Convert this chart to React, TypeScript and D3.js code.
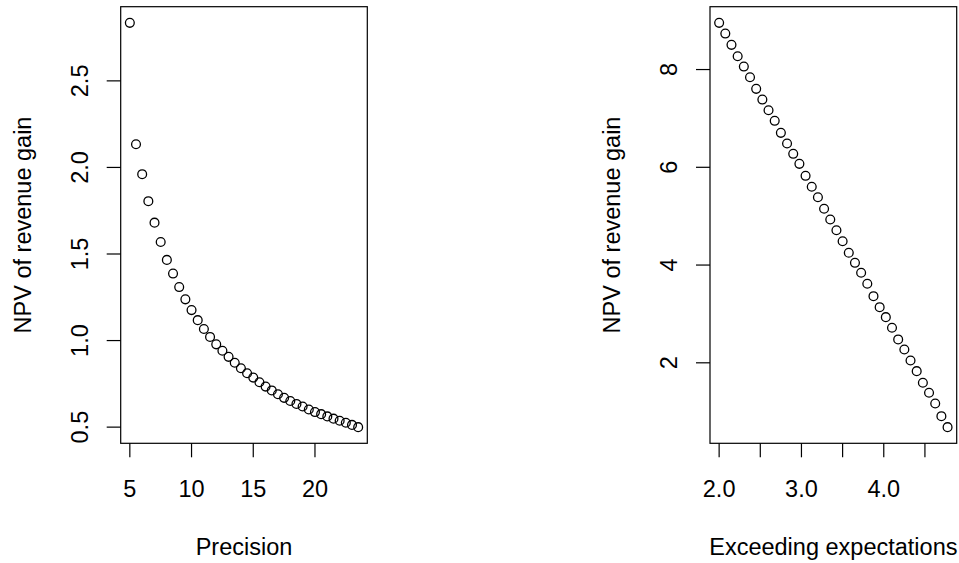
import React from "react";
import * as d3 from "d3";

// Left panel: Precision vs NPV of revenue gain
const precision = [5, 5.5, 6, 6.5, 7, 7.5, 8, 8.5, 9, 9.5, 10, 10.5, 11, 11.5, 12, 12.5, 13, 13.5, 14, 14.5, 15, 15.5, 16, 16.5, 17, 17.5, 18, 18.5, 19, 19.5, 20, 20.5, 21, 21.5, 22, 22.5, 23, 23.5];
const npvPrecision = [2.835, 2.134, 1.961, 1.805, 1.681, 1.569, 1.466, 1.387, 1.309, 1.238, 1.176, 1.118, 1.067, 1.021, 0.978, 0.941, 0.906, 0.872, 0.840, 0.811, 0.786, 0.759, 0.734, 0.712, 0.690, 0.669, 0.651, 0.634, 0.619, 0.602, 0.587, 0.575, 0.562, 0.549, 0.537, 0.525, 0.513, 0.500];

// Right panel: Exceeding expectations vs NPV of revenue gain
const exceeding = [2.0, 2.075, 2.15, 2.225, 2.3, 2.375, 2.45, 2.525, 2.6, 2.675, 2.75, 2.825, 2.9, 2.975, 3.05, 3.125, 3.2, 3.275, 3.35, 3.425, 3.5, 3.575, 3.65, 3.725, 3.8, 3.875, 3.95, 4.025, 4.1, 4.175, 4.25, 4.325, 4.4, 4.475, 4.55, 4.625, 4.7, 4.775];
const npvExceeding = [8.955, 8.736, 8.505, 8.272, 8.061, 7.843, 7.605, 7.386, 7.168, 6.951, 6.705, 6.486, 6.276, 6.071, 5.826, 5.601, 5.388, 5.151, 4.932, 4.711, 4.488, 4.251, 4.046, 3.842, 3.617, 3.363, 3.138, 2.934, 2.717, 2.478, 2.273, 2.048, 1.829, 1.591, 1.387, 1.168, 0.908, 0.684];

const leftXTicks = [5, 10, 15, 20];
const leftXTickLabels = ["5", "10", "15", "20"];
const leftYTicks = [0.5, 1.0, 1.5, 2.0, 2.5];
const leftYTickLabels = ["0.5", "1.0", "1.5", "2.0", "2.5"];
const rightXTicks = [2.0, 2.5, 3.0, 3.5, 4.0, 4.5];
const rightXTickLabels = ["2.0", "", "3.0", "", "4.0", ""];
const rightYTicks = [2, 4, 6, 8];
const rightYTickLabels = ["2", "4", "6", "8"];

const FONT = "'Liberation Sans', Arial, sans-serif";
const FS = 23.5;

function rExtent(vals: number[]): [number, number] {
  const [mn, mx] = d3.extent(vals) as [number, number];
  const e = (mx - mn) * 0.04;
  return [mn - e, mx + e];
}

type PanelProps = {
  x0: number;
  x1: number;
  y0: number;
  y1: number;
  xs: number[];
  ys: number[];
  xTicks: number[];
  xTickLabels: string[];
  yTicks: number[];
  yTickLabels: string[];
  xTitle: string;
  yTitle: string;
};

function Panel(p: PanelProps) {
  const xScale = d3.scaleLinear().domain(rExtent(p.xs)).range([p.x0, p.x1]);
  const yScale = d3.scaleLinear().domain(rExtent(p.ys)).range([p.y1, p.y0]);
  const tickLen = 14;
  const cy = (p.y0 + p.y1) / 2;
  const cx = (p.x0 + p.x1) / 2;
  return (
    <g>
      <rect x={p.x0} y={p.y0} width={p.x1 - p.x0} height={p.y1 - p.y0} fill="none" stroke="#000" strokeWidth={1.2} />
      {p.xTicks.map((t, i) => (
        <g key={"xt" + i}>
          <line x1={xScale(t)} x2={xScale(t)} y1={p.y1} y2={p.y1 + tickLen} stroke="#000" strokeWidth={1.2} />
          {p.xTickLabels[i] ? (
            <text x={xScale(t)} y={p.y1 + 53.5} textAnchor="middle" fontFamily={FONT} fontSize={FS} fill="#000">
              {p.xTickLabels[i]}
            </text>
          ) : null}
        </g>
      ))}
      {p.yTicks.map((t, i) => (
        <g key={"yt" + i}>
          <line x1={p.x0 - tickLen} x2={p.x0} y1={yScale(t)} y2={yScale(t)} stroke="#000" strokeWidth={1.2} />
          <text
            transform={`translate(${p.x0 - 33.2},${yScale(t)}) rotate(-90)`}
            textAnchor="middle"
            fontFamily={FONT}
            fontSize={FS}
            fill="#000"
          >
            {p.yTickLabels[i]}
          </text>
        </g>
      ))}
      <text x={cx} y={555} textAnchor="middle" fontFamily={FONT} fontSize={FS} fill="#000">
        {p.xTitle}
      </text>
      <text
        transform={`translate(${p.x0 - 90},${cy}) rotate(-90)`}
        textAnchor="middle"
        fontFamily={FONT}
        fontSize={FS}
        fill="#000"
      >
        {p.yTitle}
      </text>
      {p.xs.map((x, i) => (
        <circle key={"pt" + i} cx={xScale(x)} cy={yScale(p.ys[i])} r={4.4} fill="none" stroke="#000" strokeWidth={1.3} />
      ))}
    </g>
  );
}

export default function App() {
  return (
    <svg
      width={959}
      height={563}
      style={{ position: "absolute", left: 0, top: 0, background: "#fff" }}
    >
      <rect x={0} y={0} width={959} height={563} fill="#fff" />
      <Panel
        x0={120.7}
        x1={367.3}
        y0={6.7}
        y1={443.3}
        xs={precision}
        ys={npvPrecision}
        xTicks={leftXTicks}
        xTickLabels={leftXTickLabels}
        yTicks={leftYTicks}
        yTickLabels={leftYTickLabels}
        xTitle="Precision"
        yTitle="NPV of revenue gain"
      />
      <Panel
        x0={710}
        x1={956.7}
        y0={6.7}
        y1={443.3}
        xs={exceeding}
        ys={npvExceeding}
        xTicks={rightXTicks}
        xTickLabels={rightXTickLabels}
        yTicks={rightYTicks}
        yTickLabels={rightYTickLabels}
        xTitle="Exceeding expectations"
        yTitle="NPV of revenue gain"
      />
    </svg>
  );
}
